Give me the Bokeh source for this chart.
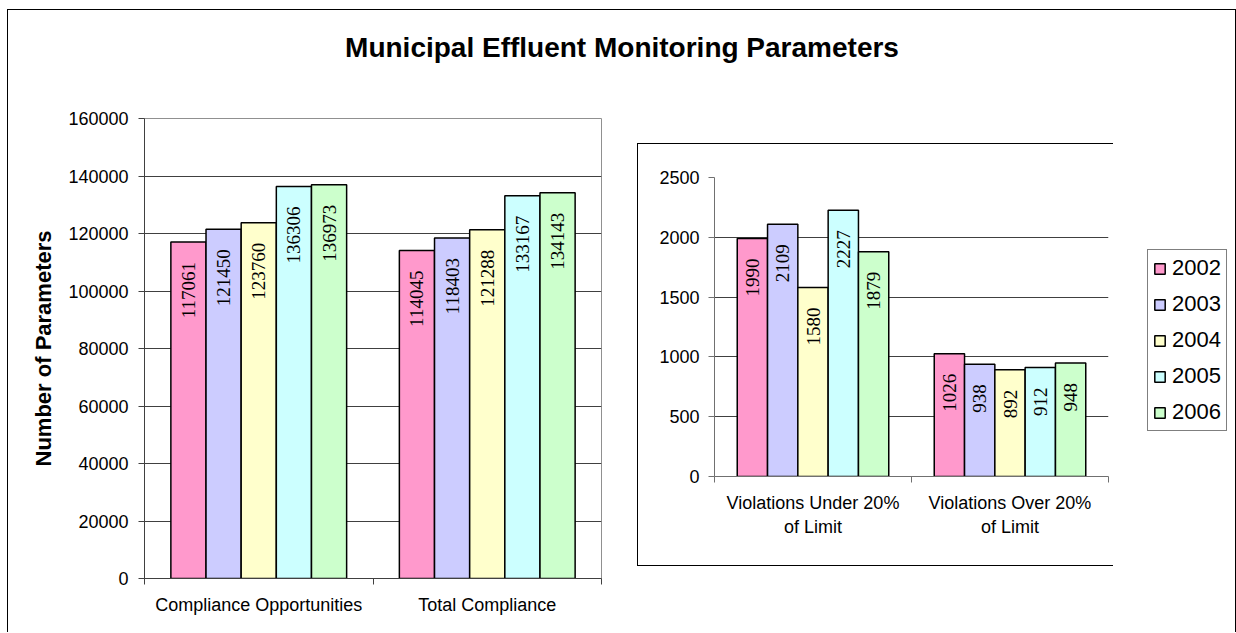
from math import pi
from bokeh.plotting import figure
from bokeh.models import (ColumnDataSource, Range1d, LinearAxis, FixedTicker,
                          BasicTickFormatter, Legend, LegendItem, Spacer, Grid)
from bokeh.layouts import column, row
from bokeh.transform import dodge
from bokeh.core.properties import value
from bokeh.embed import file_html
from bokeh.resources import INLINE

# ---------------- data ----------------
title_text = "Municipal Effluent Monitoring Parameters"
y_title = "Number of Parameters"
years = ["2002", "2003", "2004", "2005", "2006"]
colors = ["#FF99CC", "#CCCCFF", "#FFFFCC", "#CCFFFF", "#CCFFCC"]

left_categories = ["Compliance Opportunities", "Total Compliance"]
left_2002 = [117061, 114045]
left_2003 = [121450, 118403]
left_2004 = [123760, 121288]
left_2005 = [136306, 133167]
left_2006 = [136973, 134143]

right_categories = ["Violations Under 20%\nof Limit", "Violations Over 20%\nof Limit"]
right_2002 = [1990, 1026]
right_2003 = [2109, 938]
right_2004 = [1580, 892]
right_2005 = [2227, 912]
right_2006 = [1879, 948]

left_ticks = [0, 20000, 40000, 60000, 80000, 100000, 120000, 140000, 160000]
right_ticks = [0, 500, 1000, 1500, 2000, 2500]

# ---------------- styling ----------------
SANS = "Liberation Sans"
SERIF = "Liberation Serif"
BW = 1 / 6.5  # bar width in category units (Excel gap width 150%)


def make_source(cats, series):
    data = {"cat": cats, "xc": [i + 0.5 for i in range(len(cats))]}
    for yr, vals in zip(years, series):
        data["v" + yr] = vals
        data["t" + yr] = [str(v) for v in vals]
    return ColumnDataSource(data)


left_src = make_source(left_categories, [left_2002, left_2003, left_2004, left_2005, left_2006])
right_src = make_source(right_categories, [right_2002, right_2003, right_2004, right_2005, right_2006])


def bar_chart(p, src, yticks, axis_color, grid_color, ylabel=None, ylabel_standoff=12,
              label_standoff=10):
    for g in p.grid:
        g.visible = False
    cats = src.data["cat"]
    n = len(cats)
    yaxis = LinearAxis(ticker=FixedTicker(ticks=yticks),
                       formatter=BasicTickFormatter(use_scientific=False),
                       major_label_text_font=SANS, major_label_text_font_size="18px",
                       major_label_text_color="black", major_tick_out=6, major_tick_in=0,
                       minor_tick_line_color=None, axis_line_color=axis_color,
                       major_tick_line_color=axis_color, major_label_standoff=label_standoff)
    if ylabel:
        yaxis.axis_label = ylabel
        yaxis.axis_label_text_font = SANS
        yaxis.axis_label_text_font_size = "22px"
        yaxis.axis_label_text_font_style = "bold"
        yaxis.axis_label_text_color = "black"
        yaxis.axis_label_standoff = ylabel_standoff
    p.add_layout(yaxis, "left")
    p.add_layout(Grid(dimension=1, ticker=yaxis.ticker, grid_line_color=grid_color,
                      grid_line_width=1))

    # boundary tick axis (Excel puts category ticks between categories)
    edge_axis = LinearAxis(ticker=FixedTicker(ticks=list(range(n + 1))),
                           major_label_text_font_size="1px", major_label_text_alpha=0,
                           major_label_standoff=0, major_tick_out=6, major_tick_in=0,
                           minor_tick_line_color=None, axis_line_color=axis_color,
                           major_tick_line_color=axis_color)
    p.add_layout(edge_axis, "below")
    centers = [i + 0.5 for i in range(n)]
    cat_axis = LinearAxis(ticker=FixedTicker(ticks=centers),
                          major_label_overrides={c: cats[i] for i, c in enumerate(centers)},
                          axis_line_color=None, major_tick_line_color=None,
                          minor_tick_line_color=None, major_label_text_font=SANS,
                          major_label_text_font_size="18px", major_label_text_color="black",
                          major_label_standoff=4, major_label_text_line_height=1.2)
    p.add_layout(cat_axis, "below")

    for i, yr in enumerate(years):
        xo = dodge("xc", (i - 2) * BW)
        p.vbar(x=xo, top="v" + yr, width=BW, source=src, fill_color=colors[i],
               line_color="black", line_width=1.5)
        p.text(x=xo, y="v" + yr, text="t" + yr, source=src, angle=pi / 2,
               text_align="right", text_baseline="middle", y_offset=20,
               text_font=value(SERIF), text_font_size="19px", text_color="black")


# ---------------- title ----------------
tp = figure(width=1227, height=100, x_range=Range1d(0, 1), y_range=Range1d(0, 100),
            min_border=0, toolbar_location=None, output_backend="svg",
            x_axis_location=None, y_axis_location=None, outline_line_color=None)
for g in tp.grid:
    g.visible = False
tp.text(x=[0.5], y=[63], text=[title_text], text_align="center", text_baseline="middle",
        text_font=value(SANS), text_font_size="28px", text_font_style="bold",
        text_color="black")

# ---------------- left chart ----------------
lp = figure(width=629, height=522, x_range=Range1d(0, len(left_categories)),
            y_range=Range1d(0, 160000), min_border_left=136, min_border_right=36,
            min_border_top=8, min_border_bottom=54, toolbar_location=None,
            output_backend="svg", x_axis_location=None, y_axis_location=None,
            outline_line_color="#909090")
bar_chart(lp, left_src, left_ticks, "#404040", "#404040", ylabel=y_title, ylabel_standoff=9,
          label_standoff=10)

# ---------------- right chart ----------------
rp = figure(width=476, height=423, x_range=Range1d(0, len(right_categories)),
            y_range=Range1d(0, 2500), min_border_left=76, min_border_right=6,
            min_border_top=33, min_border_bottom=91, toolbar_location=None,
            output_backend="svg", x_axis_location=None, y_axis_location=None,
            outline_line_color=None,
            styles={"border-left": "1px solid black", "border-top": "1px solid black",
                    "border-bottom": "1px solid black"})
bar_chart(rp, right_src, right_ticks, "#707070", "#404040", label_standoff=9)

# ---------------- legend ----------------
gp = figure(width=121, height=383, x_range=Range1d(0, len(right_categories)),
            y_range=Range1d(0, 2500), min_border_left=33, min_border_top=0,
            min_border_right=0, min_border_bottom=0, toolbar_location=None,
            output_backend="svg", x_axis_location=None, y_axis_location=None,
            outline_line_color=None)
for g in gp.grid:
    g.visible = False
items = []
for i, yr in enumerate(years):
    r = gp.vbar(x=dodge("xc", (i - 2) * BW), top="v" + yr, width=BW,
                source=right_src, fill_color=colors[i], line_color="black", line_width=1.5)
    r.visible = False
    items.append(LegendItem(label=yr, renderers=[r]))
legend = Legend(items=items, location="top_left", border_line_color="black",
                border_line_width=1, background_fill_color="white", background_fill_alpha=1,
                label_text_font=SANS, label_text_font_size="22px", label_text_color="black",
                glyph_width=13, glyph_height=13, label_height=22, label_standoff=6,
                spacing=10, padding=5, margin=0, click_policy="none")
gp.add_layout(legend)

layout = column(
    tp,
    row(lp,
        column(Spacer(width=477, height=33), rp),
        column(Spacer(width=121, height=139), gp)),
    styles={"border-left": "1px solid black", "border-top": "1px solid black",
            "border-right": "1px solid black", "margin-left": "7px", "margin-top": "9px"},
)

open("out.html", "w").write(file_html(layout, INLINE))
